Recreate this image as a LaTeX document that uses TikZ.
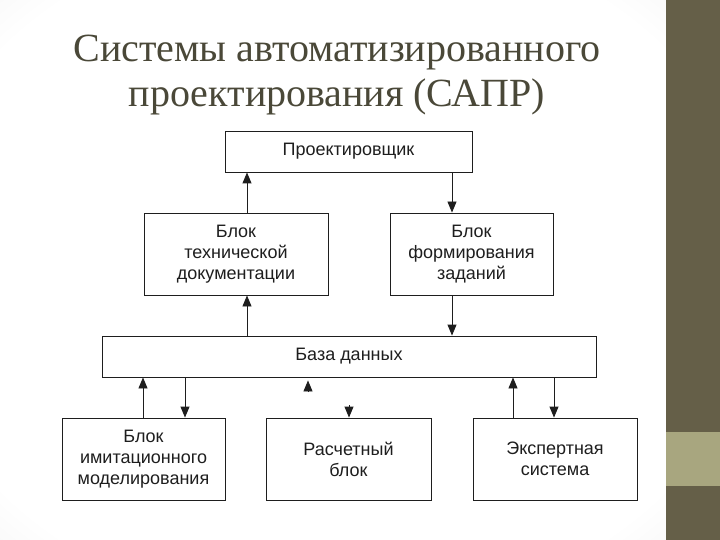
\documentclass[tikz,border=0pt]{standalone}
\usepackage{fontspec}
\setmainfont{Liberation Serif}
\newfontfamily\boxfont{Liberation Sans}
\usetikzlibrary{arrows.meta}
\definecolor{band}{HTML}{655F48}
\definecolor{bandlight}{HTML}{A8A67F}
\definecolor{titlecol}{HTML}{4A4838}
\definecolor{ink}{HTML}{1E1E1E}
\pgfdeclareradialshading{vignette}{\pgfpoint{0bp}{0bp}}{color(0bp)=(white); color(32bp)=(white); color(50bp)=(black!10); color(72bp)=(black!20)}
\begin{document}
\begin{tikzpicture}[x=1pt,y=-1pt,
  blk/.style={draw=ink, line width=0.9pt, fill=white, inner sep=0pt, align=center,
    font=\boxfont\fontsize{18}{21}\selectfont, text=ink},
  arr/.style={draw=ink, line width=0.9pt, -{Triangle[length=11pt,width=9pt]}},
  ttl/.style={anchor=base, text=titlecol, inner sep=0pt, font=\fontsize{40}{48}\selectfont}
]
\useasboundingbox (0,0) rectangle (720,540);
\shade[shading=vignette] (0,0) rectangle (666,540);
\fill[band] (666,0) rectangle (720,540);
\fill[bandlight] (666,432) rectangle (720,486);

% title
\node[ttl] (t1) at (337,62) {Системы автоматизированного};
\node[ttl] (t2) at (337,107) {проектирования (САПР)};

% boxes
\node[blk, minimum width=247pt, minimum height=41pt] (P) at (348.5,151.5) {Проектировщик};
\node[blk, minimum width=184pt, minimum height=82pt] (TD) at (236,254) {Блок\\технической\\документации};
\node[blk, minimum width=163pt, minimum height=82pt] (FZ) at (471.5,254) {Блок\\формирования\\заданий};
\node[blk, minimum width=494pt, minimum height=41pt] (DB) at (349,356.5) {База данных};
\node[blk, minimum width=163pt, minimum height=82pt] (IM) at (143.5,459) {Блок\\имитационного\\моделирования};
\node[blk, minimum width=165pt, minimum height=82pt] (RB) at (348.5,459) {Расчетный\\блок};
\node[blk, minimum width=164pt, minimum height=82pt] (ES) at (555,459) {Экспертная\\система};

% connectors
\draw[arr] ([xshift=11pt]TD.north) -- ([xshift=11pt]TD.north |- P.south);
\draw[arr] ([xshift=-19.5pt]FZ.north |- P.south) -- ([xshift=-19.5pt]FZ.north);
\draw[arr] ([xshift=11pt]TD.south |- DB.north) -- ([xshift=11pt]TD.south);
\draw[arr] ([xshift=-19.5pt]FZ.south) -- ([xshift=-19.5pt]FZ.south |- DB.north);

\draw[arr] ([xshift=-0.5pt]IM.north) -- ([xshift=-0.5pt]IM.north |- DB.south);
\draw[arr] ([xshift=41.5pt]IM.north |- DB.south) -- ([xshift=41.5pt]IM.north);

\coordinate (c1) at (308,392);
\draw[arr, shorten >=3pt] (c1) -- (c1 |- DB.south);
\coordinate (c2) at (349,405);
\draw[arr] (c2) -- (c2 |- RB.north);

\draw[arr] ([xshift=-42pt]ES.north) -- ([xshift=-42pt]ES.north |- DB.south);
\draw[arr] ([xshift=-1pt]ES.north |- DB.south) -- ([xshift=-1pt]ES.north);
\end{tikzpicture}
\end{document}
